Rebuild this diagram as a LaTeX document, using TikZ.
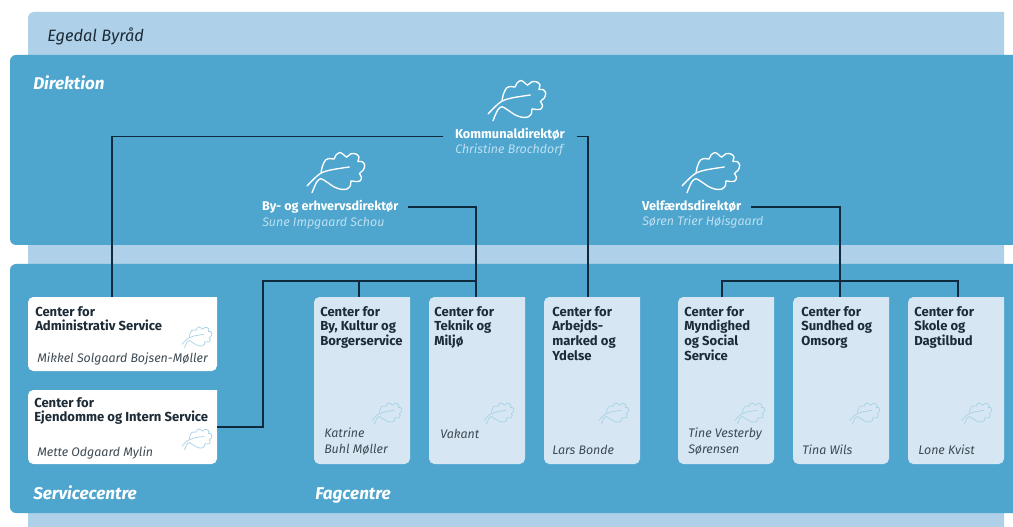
\documentclass[tikz,border=0pt]{standalone}
\usepackage{fontspec}
\setmainfont{Fira Sans}
\definecolor{panel}{HTML}{4EA5CE}
\definecolor{pale}{HTML}{AED0E8}
\definecolor{boxpale}{HTML}{D6E6F3}
\definecolor{ink}{HTML}{1C2B36}
\definecolor{wire}{HTML}{0F2A3D}
\definecolor{namecol}{HTML}{BCE0F1}
\definecolor{leafcol}{HTML}{A9D3E6}
\tikzset{
  leafmark/.pic={
    \path[pic actions] plot[smooth,tension=.5] coordinates {(-15,0.7) (-13.5,-6) (-10.5,-12) (-6,-13.5) (-2,-13) (0,-17) (4,-19.5) (8,-17) (10.7,-15) (15,-18.3) (20,-18) (23,-15) (22,-10.5) (26,-10.5) (28.7,-7) (27.3,-2) (23.5,1.5) (25.5,5) (24,9) (19,9.5) (15,9) (14.5,13.5) (11,17) (5,17.3) (-1.7,15) (-9.3,10) (-15,6.7) (-19.3,10) (-24,20.7)};
    \path[pic actions] plot[smooth,tension=.6] coordinates {(-29,14) (-17.3,2.7) (-6.7,-1.7) (13.3,-5)};
  },
  leafbig/.style={draw=white,line width=1pt,line cap=round},
  leafsmall/.style={draw=leafcol,line width=.55pt,line cap=round,scale=.52},
  boxhold/.style={anchor=north west,inner sep=0pt,outer sep=0pt},
  centertitle/.style={anchor=north west,inner sep=0pt,align=left,font=\fontsize{9.8}{11}\selectfont\bfseries,text=ink},
  personname/.style={anchor=base west,inner sep=0pt,align=left,font=\fontsize{9.3}{11.7}\selectfont\itshape,text=ink!85},
  dirtitle/.style={anchor=base west,inner xsep=7pt,inner ysep=0pt,outer sep=0pt,font=\fontsize{9.6}{11}\selectfont\bfseries,text=white},
  dirname/.style={anchor=base west,inner sep=0pt,font=\fontsize{9.3}{11}\selectfont\itshape,text=namecol},
  panelhead/.style={anchor=base west,inner sep=0pt,font=\fontsize{12.8}{14}\selectfont\bfseries\itshape,text=white},
  wireline/.style={draw=wire,line width=1.15pt},
}
\newcommand{\cardbox}[6]{%
  \fill[#6] (#2+#4,#3) [rounded corners=4pt] -- (#2,#3) -- (#2,#3+#5) -- (#2+#4,#3+#5) [sharp corners] -- cycle;
  \node[boxhold,minimum width=#4*.75pt,minimum height=#5*.75pt] (#1) at (#2,#3) {};
}
\begin{document}
\begin{tikzpicture}[x=.75pt,y=-.75pt]
\useasboundingbox (0,0) rectangle (1013,527);
\fill[white] (0,0) rectangle (1013,527);
% layers
\fill[pale] (1004,12) [rounded corners=4pt] -- (28,12) [sharp corners] -- (28,527) -- (1004,527) -- cycle;
\fill[panel] (1013,55) [rounded corners=4.5pt] -- (10,55) -- (10,245) [sharp corners] -- (1013,245) -- cycle;
\fill[panel] (1013,264) [rounded corners=4.5pt] -- (10,264) -- (10,513) [sharp corners] -- (1013,513) -- cycle;
\node[anchor=base west,inner sep=0pt,font=\fontsize{12.3}{14}\selectfont\itshape,text=ink] (byraad) at (47,42) {Egedal Byråd};
\node[panelhead] (direktion) at (33,90) {Direktion};
\node[panelhead] (service) at (33,499) {Servicecentre};
\node[panelhead] (fag) at (315,499) {Fagcentre};
% leaves
\pic[leafbig] at (517,100) {leafmark};
\pic[leafbig] at (336,172) {leafmark};
\pic[leafbig] at (711,172) {leafmark};
% direktion
\node[dirtitle,inner xsep=9pt,text height=6pt,text depth=3pt] (kom) at (443,138.3) {Kommunaldirektør};
\node[dirname] (komn) at (455,154) {Christine Brochdorf};
\node[dirtitle,font=\fontsize{9.45}{11}\selectfont\bfseries,text height=8pt,text depth=2pt] (by) at (252.7,211) {By- og erhvervsdirektør};
\node[dirname] (byn) at (262,227) {Sune Impgaard Schou};
\node[dirtitle,text height=8pt,text depth=2pt] (vel) at (632.7,211) {Velfærdsdirektør};
\node[dirname] (veln) at (642,226) {Søren Trier Høisgaard};
% cards
\cardbox{admin}{28}{297}{189}{74}{white}
\cardbox{ejen}{28}{390}{189}{74}{white}
\cardbox{bykul}{314}{297}{96}{167}{boxpale}
\cardbox{tek}{429}{297}{96}{167}{boxpale}
\cardbox{arb}{544}{297}{96}{167}{boxpale}
\cardbox{myn}{678}{297}{96}{167}{boxpale}
\cardbox{sun}{793}{297}{96}{167}{boxpale}
\cardbox{sko}{908}{297}{96}{167}{boxpale}
\pic[leafsmall] at (197,337) {leafmark};
\pic[leafsmall] at (197,439) {leafmark};
\pic[leafsmall] at (387,413) {leafmark};
\pic[leafsmall] at (499,413) {leafmark};
\pic[leafsmall] at (614,413) {leafmark};
\pic[leafsmall] at (750,413) {leafmark};
\pic[leafsmall] at (865,413) {leafmark};
\pic[leafsmall] at (977,413) {leafmark};
\node[centertitle] (t1) at (35,306) {Center for\\Administrativ Service};
\node[personname] (p1) at (37,362) {Mikkel Solgaard Bojsen-Møller};
\node[centertitle] (t2) at (34,397) {Center for\\Ejendomme og Intern Service};
\node[personname] (p2) at (37,456) {Mette Odgaard Mylin};
\node[centertitle] (t3) at (320,306) {Center for\\By, Kultur og\\Borgerservice};
\node[personname,anchor=north west] (p3) at (324,428) {Katrine\\Buhl Møller};
\node[centertitle] (t4) at (434,306) {Center for\\Teknik og\\Miljø};
\node[personname] (p4) at (440,438) {Vakant};
\node[centertitle] (t5) at (552,306) {Center for\\Arbejds-\\marked og\\Ydelse};
\node[personname] (p5) at (552,454) {Lars Bonde};
\node[centertitle] (t6) at (684,306) {Center for\\Myndighed\\og Social\\Service};
\node[personname,anchor=north west] (p6) at (688,428) {Tine Vesterby\\Sørensen};
\node[centertitle] (t7) at (801,306) {Center for\\Sundhed og\\Omsorg};
\node[personname] (p7) at (802,454) {Tina Wils};
\node[centertitle] (t8) at (914,306) {Center for\\Skole og\\Dagtilbud};
\node[personname] (p8) at (918,454) {Lone Kvist};
% connectors
\coordinate (ina) at (112,297);
\coordinate (inb) at (359,297);
\coordinate (inc) at (476,297);
\coordinate (ind) at (588,297);
\coordinate (ine) at (722,297);
\coordinate (inf) at (840,297);
\coordinate (ing) at (958,297);
\coordinate (busl) at (263,281);
\coordinate (busm) at (476,281);
\coordinate (busn) at (359,281);
\coordinate (busj) at (958,281);
\coordinate (ejr) at (217,427);
\draw[wireline] (kom.west) -| (ina);
\draw[wireline] (kom.east) -| (ind);
\draw[wireline] (by.east) -| (inc);
\draw[wireline] (ejr) -| (busl) -- (busm);
\draw[wireline] (busn) -- (inb);
\draw[wireline] (vel.east) -| (inf);
\draw[wireline] (ine) |- (busj) -- (ing);
\end{tikzpicture}
\end{document}
